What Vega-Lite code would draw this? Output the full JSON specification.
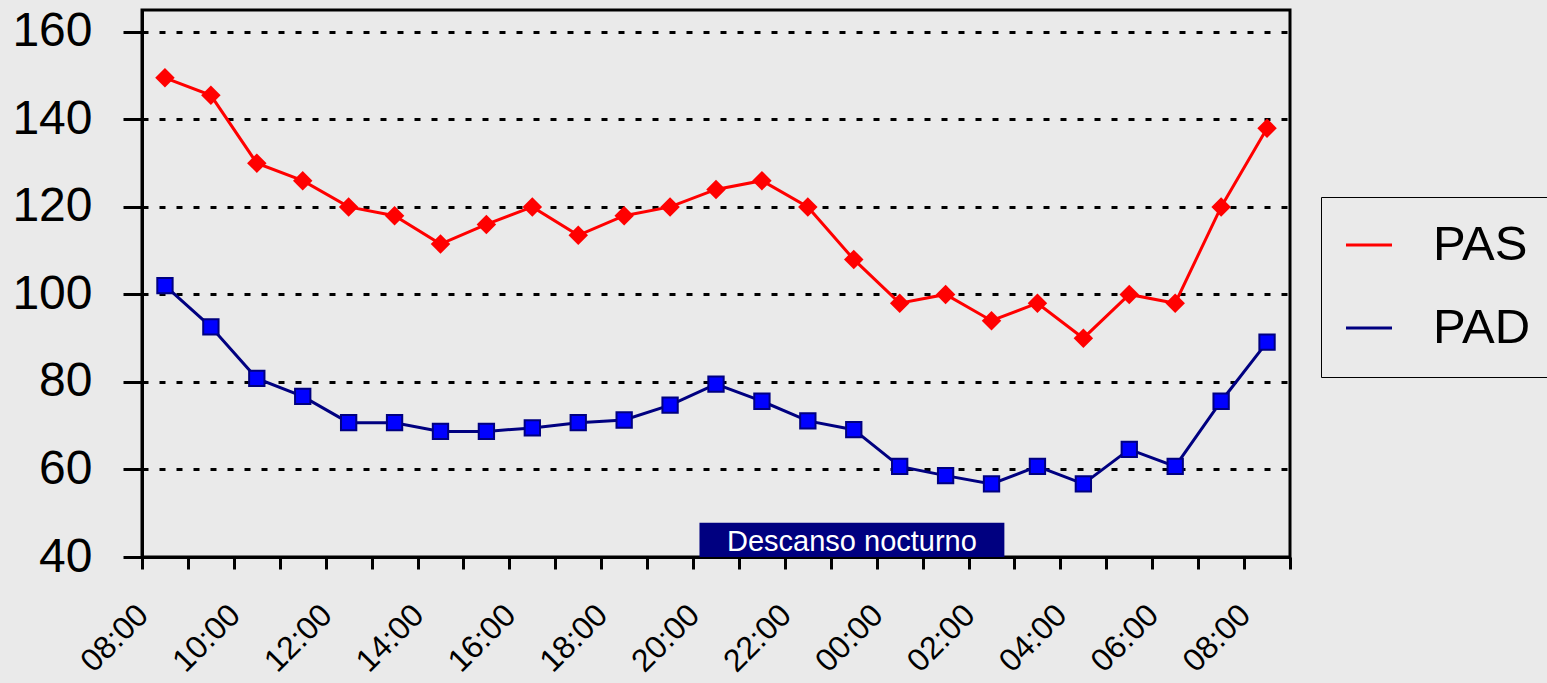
{
  "$schema": "https://vega.github.io/schema/vega-lite/v6.json",
  "width": 1148,
  "height": 547,
  "autosize": {"type": "none"},
  "padding": {"left": 142, "top": 10, "right": 257, "bottom": 126},
  "background": "#eaeaea",
  "config": {
    "view": {"stroke": "black", "strokeWidth": 3, "fill": "#eaeaea"},
    "font": "Liberation Sans",
    "axis": {"domainColor": "black", "domainWidth": 3, "tickColor": "black", "tickWidth": 3, "labelColor": "black", "labelFont": "Liberation Sans"},
    "legend": {"labelFont": "Liberation Sans"}
  },
  "datasets": {
    "presion": [
      {"hora": 8.5, "serie": "PAS", "valor": 149.5},
      {"hora": 9.5, "serie": "PAS", "valor": 145.5},
      {"hora": 10.5, "serie": "PAS", "valor": 130},
      {"hora": 11.5, "serie": "PAS", "valor": 126},
      {"hora": 12.5, "serie": "PAS", "valor": 120},
      {"hora": 13.5, "serie": "PAS", "valor": 118},
      {"hora": 14.5, "serie": "PAS", "valor": 111.5},
      {"hora": 15.5, "serie": "PAS", "valor": 116},
      {"hora": 16.5, "serie": "PAS", "valor": 120},
      {"hora": 17.5, "serie": "PAS", "valor": 113.5},
      {"hora": 18.5, "serie": "PAS", "valor": 118},
      {"hora": 19.5, "serie": "PAS", "valor": 120},
      {"hora": 20.5, "serie": "PAS", "valor": 124},
      {"hora": 21.5, "serie": "PAS", "valor": 126},
      {"hora": 22.5, "serie": "PAS", "valor": 120},
      {"hora": 23.5, "serie": "PAS", "valor": 108},
      {"hora": 24.5, "serie": "PAS", "valor": 98},
      {"hora": 25.5, "serie": "PAS", "valor": 100},
      {"hora": 26.5, "serie": "PAS", "valor": 94},
      {"hora": 27.5, "serie": "PAS", "valor": 98},
      {"hora": 28.5, "serie": "PAS", "valor": 90},
      {"hora": 29.5, "serie": "PAS", "valor": 100},
      {"hora": 30.5, "serie": "PAS", "valor": 98},
      {"hora": 31.5, "serie": "PAS", "valor": 120},
      {"hora": 32.5, "serie": "PAS", "valor": 138},
      {"hora": 8.5, "serie": "PAD", "valor": 102},
      {"hora": 9.5, "serie": "PAD", "valor": 92.6},
      {"hora": 10.5, "serie": "PAD", "valor": 80.8},
      {"hora": 11.5, "serie": "PAD", "valor": 76.7},
      {"hora": 12.5, "serie": "PAD", "valor": 70.7},
      {"hora": 13.5, "serie": "PAD", "valor": 70.7},
      {"hora": 14.5, "serie": "PAD", "valor": 68.7},
      {"hora": 15.5, "serie": "PAD", "valor": 68.7},
      {"hora": 16.5, "serie": "PAD", "valor": 69.5},
      {"hora": 17.5, "serie": "PAD", "valor": 70.7},
      {"hora": 18.5, "serie": "PAD", "valor": 71.3},
      {"hora": 19.5, "serie": "PAD", "valor": 74.7},
      {"hora": 20.5, "serie": "PAD", "valor": 79.5},
      {"hora": 21.5, "serie": "PAD", "valor": 75.6},
      {"hora": 22.5, "serie": "PAD", "valor": 71.1},
      {"hora": 23.5, "serie": "PAD", "valor": 69.1},
      {"hora": 24.5, "serie": "PAD", "valor": 60.7},
      {"hora": 25.5, "serie": "PAD", "valor": 58.6},
      {"hora": 26.5, "serie": "PAD", "valor": 56.7},
      {"hora": 27.5, "serie": "PAD", "valor": 60.7},
      {"hora": 28.5, "serie": "PAD", "valor": 56.7},
      {"hora": 29.5, "serie": "PAD", "valor": 64.6},
      {"hora": 30.5, "serie": "PAD", "valor": 60.7},
      {"hora": 31.5, "serie": "PAD", "valor": 75.6},
      {"hora": 32.5, "serie": "PAD", "valor": 89.1}
    ],
    "nocturno_caja": [
      {"hora": 20.14, "hora_fin": 26.78, "valor": 40, "valor_fin": 47.8}
    ],
    "nocturno_texto": [
      {"hora": 23.46, "valor": 41.4, "etiqueta": "Descanso nocturno"}
    ]
  },
  "encoding": {
    "x": {
      "field": "hora", "type": "quantitative",
      "scale": {"domain": [8, 33], "nice": false, "zero": false},
      "axis": {
        "title": null, "grid": false, "orient": "bottom",
        "values": [8,9,10,11,12,13,14,15,16,17,18,19,20,21,22,23,24,25,26,27,28,29,30,31,32,33],
        "labelExpr": "datum.value % 2 == 0 ? ((datum.value % 24) < 10 ? '0' : '') + (datum.value % 24) + ':00' : ''",
        "labelAngle": -45, "labelFontSize": 32, "tickSize": 12, "labelPadding": 30, "labelOffset": -10,
        "labelOverlap": false, "labelFlush": false
      }
    },
    "y": {
      "field": "valor", "type": "quantitative",
      "scale": {"domain": [40, 165], "nice": false, "zero": false},
      "axis": {
        "title": null, "orient": "left", "values": [40, 60, 80, 100, 120, 140, 160],
        "grid": true, "gridColor": "black", "gridDash": [6, 11], "gridWidth": 3,
        "tickSize": 19, "labelFontSize": 48, "labelPadding": 31
      }
    }
  },
  "layer": [
    {
      "data": {"name": "presion"},
      "mark": {"type": "line", "strokeWidth": 3},
      "encoding": {
        "color": {
          "field": "serie", "type": "nominal",
          "scale": {"domain": ["PAS", "PAD"], "range": ["#ff0000", "#000080"]},
          "legend": {
            "orient": "none", "legendX": 1179, "legendY": 187, "title": null,
            "labelFontSize": 49, "labelColor": "black", "labelOffset": 39.5,
            "padding": 23.5, "rowPadding": 33,
            "strokeColor": "black", "fillColor": "#eaeaea",
            "symbolSize": 2116, "symbolStrokeWidth": 3
          }
        }
      }
    },
    {
      "data": {"name": "presion"},
      "transform": [{"filter": "datum.serie === 'PAS'"}],
      "mark": {"type": "point", "shape": "diamond", "filled": true, "size": 380, "color": "#ff0000", "opacity": 1}
    },
    {
      "data": {"name": "presion"},
      "transform": [{"filter": "datum.serie === 'PAD'"}],
      "mark": {"type": "point", "shape": "square", "filled": true, "size": 235, "fill": "#0000ff", "stroke": "#000080", "strokeWidth": 2, "opacity": 1}
    },
    {
      "data": {"name": "nocturno_caja"},
      "mark": {"type": "rect", "color": "#000080"},
      "encoding": {
        "x2": {"field": "hora_fin"},
        "y2": {"field": "valor_fin"}
      }
    },
    {
      "data": {"name": "nocturno_texto"},
      "mark": {"type": "text", "color": "white", "fontSize": 29, "font": "Liberation Sans", "align": "center", "baseline": "alphabetic"},
      "encoding": {
        "text": {"field": "etiqueta"}
      }
    }
  ]
}
